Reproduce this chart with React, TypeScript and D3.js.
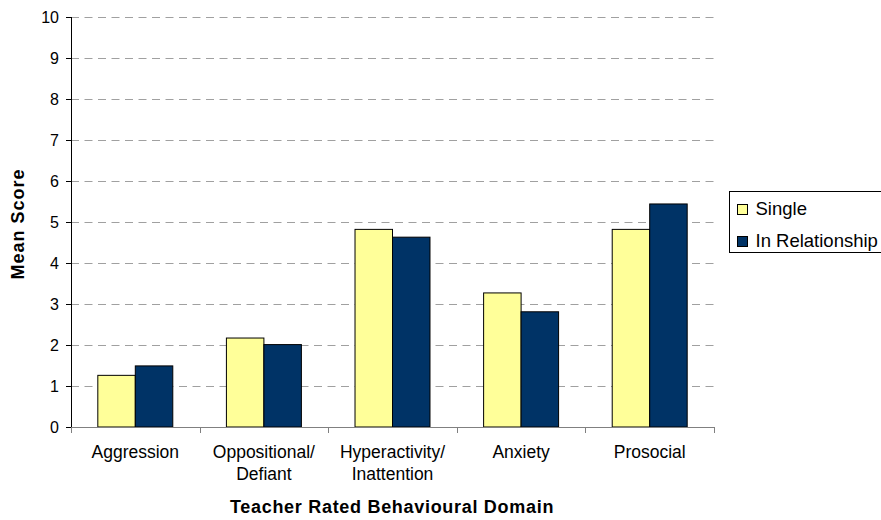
import React from "react";
import * as d3 from "d3";

const categories = [["Aggression"], ["Oppositional/", "Defiant"], ["Hyperactivity/", "Inattention"], ["Anxiety"], ["Prosocial"]];
const singleValues = [1.26, 2.17, 4.82, 3.27, 4.82];
const relationshipValues = [1.49, 2.01, 4.63, 2.81, 5.44];
const seriesNames = ["Single", "In Relationship"];
const seriesColors = ["#FFFF99", "#003366"];
const yTicks = [0, 1, 2, 3, 4, 5, 6, 7, 8, 9, 10];

export default function App() {
  const W = 881, H = 520;
  const left = 71, right = 714, top = 17, bottom = 427;
  const x = d3.scaleBand<number>().domain(d3.range(categories.length)).range([left, right]).paddingInner(0.417).paddingOuter(0.2085);
  const x1 = d3.scaleBand<number>().domain([0, 1]).range([0, x.bandwidth()]);
  const y = d3.scaleLinear().domain([0, 10]).range([bottom, top]);
  const step = (right - left) / categories.length;
  const font = "Liberation Sans, Arial, sans-serif";
  const series = [singleValues, relationshipValues];
  return (
    <svg width={W} height={H} style={{ position: "absolute", left: 0, top: 0, background: "#fff" }} fontFamily={font}>
      {yTicks.filter((t) => t > 0).map((t) => (
        <line key={"g" + t} x1={left} x2={right} y1={Math.round(y(t)) + 0.5} y2={Math.round(y(t)) + 0.5} stroke="#a0a0a0" strokeDasharray="8,5.5" />
      ))}
      {series.map((vals, si) =>
        vals.map((v, i) => (
          <rect key={si + "-" + i} x={(x(i) as number) + (x1(si) as number)} y={y(v)} width={x1.bandwidth()} height={y(0) - y(v)} fill={seriesColors[si]} stroke="#000" strokeWidth={1} />
        ))
      )}
      <line x1={left + 0.5} x2={left + 0.5} y1={top} y2={bottom} stroke="#000" />
      <line x1={left} x2={right} y1={bottom + 0.5} y2={bottom + 0.5} stroke="#808080" />
      {yTicks.map((t) => (
        <g key={"t" + t}>
          <line x1={left - 5} x2={left} y1={Math.round(y(t)) + 0.5} y2={Math.round(y(t)) + 0.5} stroke="#000" />
          <text x={59} y={y(t)} dy="0.36em" textAnchor="end" fontSize={16}>{t}</text>
        </g>
      ))}
      {d3.range(categories.length + 1).map((i) => (
        <line key={"c" + i} x1={Math.round(left + i * step) + 0.5} x2={Math.round(left + i * step) + 0.5} y1={bottom} y2={bottom + 6} stroke="#808080" />
      ))}
      {categories.map((lines, i) => (
        <text key={"l" + i} x={(x(i) as number) + x.bandwidth() / 2} y={458} textAnchor="middle" fontSize={17.5}>
          {lines.map((ln, k) => (
            <tspan key={k} x={(x(i) as number) + x.bandwidth() / 2} dy={k === 0 ? 0 : 22}>{ln}</tspan>
          ))}
        </text>
      ))}
      <text x={392} y={513} textAnchor="middle" fontSize={18} fontWeight="bold" letterSpacing={0.7}>Teacher Rated Behavioural Domain</text>
      <text transform={`translate(23.5,224) rotate(-90)`} textAnchor="middle" fontSize={18} fontWeight="bold" letterSpacing={1}>Mean Score</text>
      <rect x={729.5} y={191.5} width={160} height={61} fill="#fff" stroke="#000" />
      {seriesNames.map((n, i) => (
        <g key={"lg" + i}>
          <rect x={737.5} y={204.5 + i * 32} width={10} height={10} fill={seriesColors[i]} stroke="#000" />
          <text x={755.5} y={215 + i * 31.7} fontSize={18.5}>{n}</text>
        </g>
      ))}
    </svg>
  );
}
